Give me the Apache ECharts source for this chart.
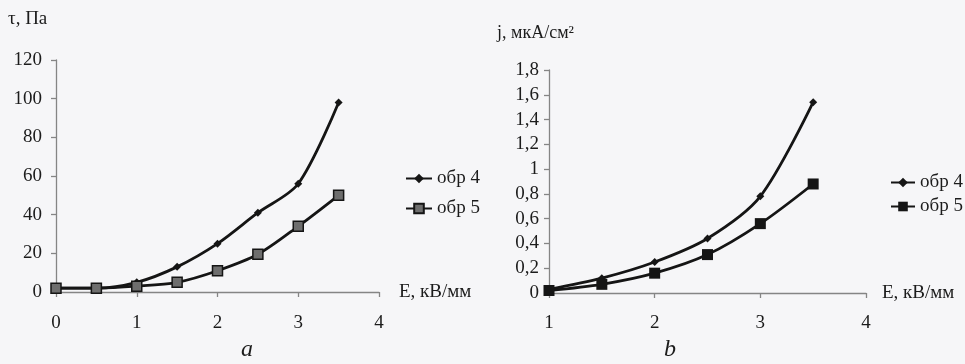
<!DOCTYPE html>
<html><head><meta charset="utf-8">
<script src="https://cdn.jsdelivr.net/npm/echarts@6/dist/echarts.min.js"></script>
<style>html,body{margin:0;padding:0;background:#f6f6f8;}#c{width:965px;height:364px;}</style>
</head><body><div id="c"></div>
<script>
// Chart a: shear stress tau (Pa) vs field E (kV/mm)
const xA = [0, 0.5, 1, 1.5, 2, 2.5, 3, 3.5];
const tau4 = [2, 2, 5, 13, 25, 41, 56, 98];
const tau5 = [2, 2, 3, 5, 11, 19.5, 34, 50];
// Chart b: current density j (uA/cm2) vs E (kV/mm)
const xB = [1, 1.5, 2, 2.5, 3, 3.5];
const j4 = [0.03, 0.12, 0.25, 0.44, 0.78, 1.54];
const j5 = [0.02, 0.07, 0.16, 0.31, 0.56, 0.88];
const names = ['обр 4', 'обр 5'];

const pair = (xs, ys) => xs.map((x, i) => [x, ys[i]]);
const FONT = 'Liberation Serif';
const TXT = '#1c1c1c';
const AX = '#858585';

function axisCommon() {
  return {
    axisLine: {show: true, lineStyle: {color: AX, width: 1.3}},
    axisTick: {show: true, length: 5, lineStyle: {color: AX, width: 1.3}},
    splitLine: {show: false},
    axisLabel: {fontFamily: FONT, fontSize: 19, color: TXT}
  };
}

const chart = echarts.init(document.getElementById('c'));
const lineStyle = {color: '#151515', width: 2.8};
chart.setOption({
  backgroundColor: '#f6f6f8',
  animation: false,
  grid: [
    {left: 56, top: 60, width: 323, height: 232},
    {left: 549, top: 70, width: 317, height: 223}
  ],
  xAxis: [
    Object.assign(axisCommon(), {type: 'value', gridIndex: 0, min: 0, max: 4, interval: 1,
      name: 'Е, кВ/мм', nameLocation: 'end', nameGap: 20,
      nameTextStyle: {fontFamily: FONT, fontSize: 19, color: TXT, verticalAlign: 'middle'},
      axisLabel: {fontFamily: FONT, fontSize: 19, color: TXT, margin: 22}}),
    Object.assign(axisCommon(), {type: 'value', gridIndex: 1, min: 1, max: 4, interval: 1,
      name: 'Е, кВ/мм', nameLocation: 'end', nameGap: 16,
      nameTextStyle: {fontFamily: FONT, fontSize: 19, color: TXT, verticalAlign: 'middle'},
      axisLabel: {fontFamily: FONT, fontSize: 19, color: TXT, margin: 21}})
  ],
  yAxis: [
    Object.assign(axisCommon(), {type: 'value', gridIndex: 0, min: 0, max: 120, interval: 20,
      axisLabel: {fontFamily: FONT, fontSize: 19, color: TXT, margin: 14}}),
    Object.assign(axisCommon(), {type: 'value', gridIndex: 1, min: 0, max: 1.8, interval: 0.2,
      axisLabel: {fontFamily: FONT, fontSize: 19, color: TXT, margin: 10,
        formatter: v => String(Math.round(v * 10) / 10).replace('.', ',')}})
  ],
  legend: [
    {orient: 'vertical', left: 405, top: 169, padding: 0, itemWidth: 26, itemHeight: 12, itemGap: 11,
     textStyle: {fontFamily: FONT, fontSize: 19, color: TXT},
     data: [{name: names[0]}, {name: names[1]}]},
    {orient: 'vertical', left: 890, top: 173, padding: 0, itemWidth: 24, itemHeight: 12, itemGap: 5,
     textStyle: {fontFamily: FONT, fontSize: 19, color: TXT},
     data: [{name: names[0] + ' '}, {name: names[1] + ' '}]}
  ],
  graphic: [
    {type: 'text', left: 8, top: 10, style: {text: 'τ, Па', font: '19px "Liberation Serif"', fill: TXT}},
    {type: 'text', left: 497, top: 24, style: {text: 'j, мкА/см²', font: '18px "Liberation Serif"', fill: TXT}},
    {type: 'text', left: 241, top: 338, style: {text: 'a', font: 'italic 24px "Liberation Serif"', fill: TXT}},
    {type: 'text', left: 664, top: 338, style: {text: 'b', font: 'italic 24px "Liberation Serif"', fill: TXT}}
  ],
  series: [
    {name: names[0], type: 'line', xAxisIndex: 0, yAxisIndex: 0, smooth: 0.3,
     data: pair(xA, tau4), symbol: 'diamond', symbolSize: 8,
     lineStyle: lineStyle, itemStyle: {color: '#151515'}},
    {name: names[1], type: 'line', xAxisIndex: 0, yAxisIndex: 0, smooth: 0.3,
     data: pair(xA, tau5), symbol: 'rect', symbolSize: 10,
     lineStyle: lineStyle, itemStyle: {color: '#6e6e6e', borderColor: '#151515', borderWidth: 1.5}},
    {name: names[0] + ' ', type: 'line', xAxisIndex: 1, yAxisIndex: 1, smooth: 0.3,
     data: pair(xB, j4), symbol: 'diamond', symbolSize: 8,
     lineStyle: lineStyle, itemStyle: {color: '#151515'}},
    {name: names[1] + ' ', type: 'line', xAxisIndex: 1, yAxisIndex: 1, smooth: 0.3,
     data: pair(xB, j5), symbol: 'rect', symbolSize: 11,
     lineStyle: lineStyle, itemStyle: {color: '#151515'}}
  ]
});
</script></body></html>
